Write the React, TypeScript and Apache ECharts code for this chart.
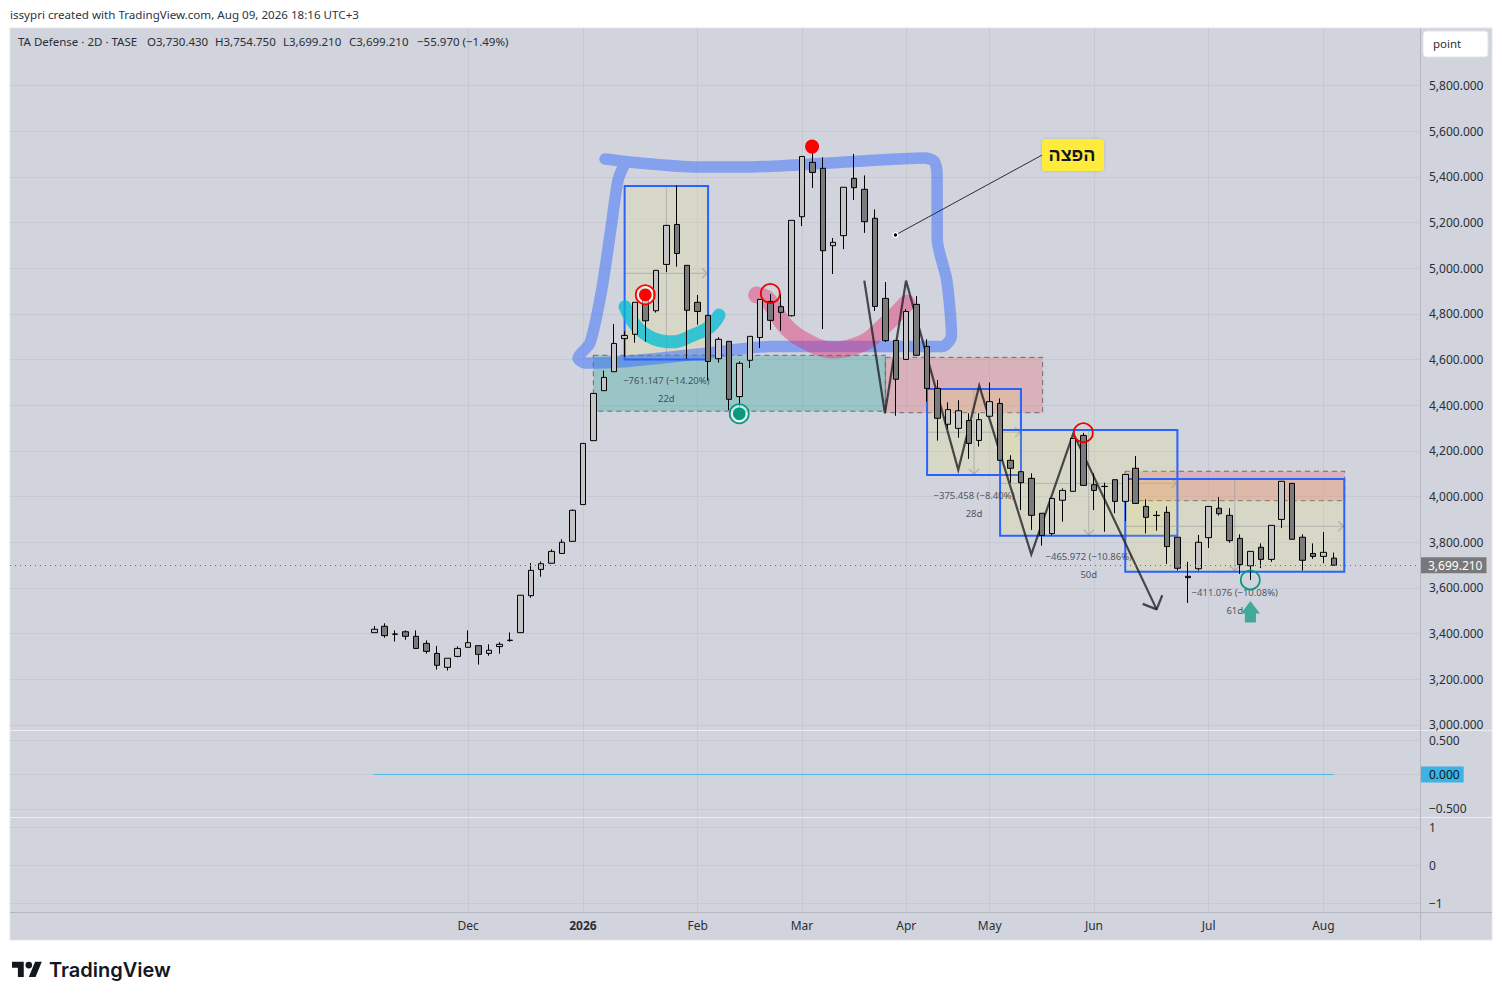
import React, { useEffect, useRef } from "react";
import * as echarts from "echarts";

// ---- candles (2D bars) ----
const opens = [3404,3432,3398,3408,3388,3357,3313,3252,3300,3340,3347,3313,3343,3370,3404,3566,3681,3708,3751,3804,3965,4245,4464,4547,4692,4711,4868,4814,5017,5192,5013,4851,4794,4604,4680,4438,4597,4697,4855,4832,4792,5226,5464,5438,5099,5143,5394,5346,5219,4868,4684,4601,4842,4658,4474,4317,4299,4333,4246,4352,4408,4159,4109,4080,3927,3838,3984,4023,4268,4052,4045,4074,3979,4124,3957,3918,3931,3822,3651,3684,3820,3949,3918,3817,3697,3778,3725,3900,4058,3822,3751,3738,3730.43];
const closes = [3419,3391,3397,3388,3335,3322,3261,3292,3335,3360,3309,3327,3353,3371,3568,3677,3706,3760,3800,3940,4233,4452,4522,4671,4706,4851,4770,4991,5188,5065,4816,4811,4592,4689,4426,4584,4702,4864,4772,4807,5210,5490,5420,5077,5114,5355,5353,5204,4833,4683,4514,4811,4619,4474,4343,4381,4376,4233,4337,4416,4159,4124,4061,3918,3830,3992,4027,4255,4049,4027,4044,3979,4097,3970,3909,3917,3781,3686,3645,3800,3957,3925,3807,3702,3760,3725,3874,4067,3813,3721,3738,3756,3699.21];
const lows = [3404,3382,3365,3373,3335,3312,3242,3238,3296,3340,3264,3303,3312,3364,3404,3557,3649,3708,3751,3804,3965,4245,4464,4547,4613,4674,4679,4806,4984,5007,4603,4753,4508,4587,4379,4394,4563,4651,4730,4727,4789,5185,5352,4734,4975,5084,5299,5155,4813,4677,4354,4601,4619,4416,4245,4296,4258,4165,4219,4352,4159,4061,3941,3854,3785,3830,3890,4023,4049,3941,3846,3927,3893,3970,3839,3851,3705,3676,3534,3676,3775,3917,3798,3661,3635,3687,3714,3862,3813,3676,3727,3708,3699.21];
const highs = [3433,3445,3414,3414,3414,3370,3346,3292,3344,3414,3347,3353,3362,3405,3568,3709,3716,3769,3813,3944,4233,4452,4552,4756,4724,4851,4900,4991,5188,5363,5013,4883,4794,4698,4680,4592,4702,4864,4887,4887,5210,5490,5533,5486,5133,5355,5501,5407,5258,4940,4684,4822,4879,4689,4511,4413,4422,4365,4365,4500,4430,4181,4109,4102,3927,3992,4036,4255,4279,4102,4061,4074,4097,4178,3988,3937,3957,3822,3714,3832,3957,3998,3949,3835,3760,3795,3874,4067,4058,3835,3795,3845,3754.75];
const lastClose = 3699.21;

const monthTicks = [9, 20, 31, 41, 51, 59, 69, 80, 91];
const monthLabels = ["Dec", "2026", "Feb", "Mar", "Apr", "May", "Jun", "Jul", "Aug"];
const priceTicks = [3000,3200,3400,3600,3800,4000,4200,4400,4600,4800,5000,5200,5400,5600,5800];
const pane2Ticks = [-0.5, 0, 0.5];
const pane3Ticks = [-1, 0, 1];
const zeroLine = [[0, 0], [92, 0]];

// ---- drawings, in [bar index, price] ----
const toolBoxes = [
  [24, 5360, 32, 4601],
  [53, 4471, 62, 4095],
  [60, 4292, 77, 3829],
  [72, 4077, 93, 3671],
];
const toolMids = [[28, 4978], [57.5, 4282], [68.5, 4058], [82.5, 3870]];
const zoneBoxes = [
  [21, 4619, 49, 4374],
  [49, 4610, 64.08, 4367.5],
  [71.98, 4111, 93.04, 3982],
];
const blueBrush = [[22.12,5479],[25.47,5461],[30.94,5444],[36.02,5444],[45.61,5467],[52.8,5483],[53.66,5470],[53.95,5422],[53.98,5124],[54.88,4949],[55.34,4703],[54.43,4657],[45.61,4657],[37.94,4657],[31.99,4629],[23.84,4591],[20.2,4585],[19.53,4607],[20.68,4673],[21.8,4905],[22.76,5198],[23.37,5387],[24.04,5461]];
const cyanBrush = [[24.04,4832],[25.16,4744],[26.75,4693],[28.67,4678],[30.58,4708],[32.19,4744],[33.05,4795]];
const pinkBrush = [[36.66,4883],[37.75,4861],[39.18,4760],[40.81,4695],[43.98,4642],[46.86,4673],[48.77,4743],[51.07,4848]];
const zigzag = [[46.98,4946],[48.96,4365],[50.98,4946],[55.99,4117],[58,4486],[62.99,3747],[67.02,4277],[75.01,3506]];
const arrowHead = [[73.67,3530],[75.01,3506],[75.55,3568]];
const calloutLine = [[49.97,5146],[64.02,5496]];
const calloutBox = [64.02, 5566, 69.96, 5426];
const calloutText = "הפצה";
const measureNotes: [number, number, string][] = [
  [28, 4508, "−761.147 (−14.20%)"], [28, 4430, "22d"],
  [57.5, 4004, "−375.458 (−8.40%)"], [57.5, 3927, "28d"],
  [68.5, 3737, "−465.972 (−10.86%)"], [68.5, 3660, "50d"],
  [82.5, 3579, "−411.076 (−10.08%)"], [82.5, 3502, "61d"],
];
const redRings = [[37.97, 4890], [67.98, 4280]];
const tealRings = [[83.99, 3635]];
const redDots = [[41.97, 5533]];
const redTargets = [[25.98, 4884]];
const tealTargets = [[34.99, 4363]];
const upArrows = [[84, 3543]];
const legendParts: [number, string][] = [
  [18, "TA Defense · 2D · TASE"], [147, "O3,730.430"], [215, "H3,754.750"],
  [283, "L3,699.210"], [349, "C3,699.210"], [417, "−55.970 (−1.49%)"],
];

const FONT = '"Noto Sans", sans-serif';
const TEXT = "#2a2e39";
const GRID = "#c6c9d2";
const PANEL = "#d1d4dc";

echarts.graphic.registerShape(
  "logo",
  echarts.graphic.extendPath(
    "M14 22H7V11H0V4h14v18zM28 22h-8l7.5-18h8L28 22zM16 8a4 4 0 1 0 8 0a4 4 0 1 0 -8 0z",
    {}
  )
);

const fmtPrice = (v: number) =>
  v.toLocaleString("en-US", { minimumFractionDigits: 3, maximumFractionDigits: 3 });
const minus = (s: string) => s.replace("-", "−");

function overlaySeries(list: any[], z: number, draw: (row: any, api: any) => any) {
  return {
    type: "custom",
    xAxisIndex: 0,
    yAxisIndex: 0,
    silent: true,
    z,
    clip: false,
    data: list.map((r) => [r[0], r[1]]),
    renderItem: (p: any, api: any) => draw(list[p.dataIndex], api),
  };
}

const rectOf = (b: number[], api: any) => {
  const a = api.coord([b[0], b[1]]);
  const c = api.coord([b[2], b[3]]);
  return { x: a[0], y: a[1], width: c[0] - a[0], height: c[1] - a[1] };
};

function chevron(x: number, y: number, dir: "right" | "down") {
  const pts =
    dir === "right"
      ? [[x - 5, y - 5], [x, y], [x - 5, y + 5]]
      : [[x - 5, y - 5], [x, y], [x + 5, y - 5]];
  return { type: "polyline", shape: { points: pts }, style: { stroke: "rgba(150,152,160,.6)", lineWidth: 1.4, fill: "none" } };
}

function brush(data: number[][], color: string, width: number, smooth: number) {
  return {
    type: "line",
    xAxisIndex: 0,
    yAxisIndex: 0,
    data,
    silent: true,
    z: 1,
    smooth,
    showSymbol: false,
    symbol: "none",
    lineStyle: { color, width, cap: "round", join: "round" },
  };
}

function ring(pos: number[], api: any, color: string, dot: boolean) {
  const c = api.coord(pos);
  const children: any[] = [
    { type: "circle", shape: { cx: c[0], cy: c[1], r: 9.5 }, style: { fill: dot ? "rgba(255,255,255,.55)" : "none", stroke: color, lineWidth: 1.8 } },
  ];
  if (dot) children.push({ type: "circle", shape: { cx: c[0], cy: c[1], r: 6.3 }, style: { fill: color } });
  return { type: "group", children };
}

export default function App() {
  const ref = useRef<HTMLDivElement>(null);
  useEffect(() => {
    const chart = echarts.init(ref.current!, null, { renderer: "svg" });
    const xBase = {
      type: "value",
      min: -34.93,
      max: 100.26,
      axisLine: { show: false },
      axisTick: { show: false, customValues: monthTicks },
      splitLine: { show: true, lineStyle: { color: GRID, width: 1 } },
    };
    const candleData = opens.map((o, i) => [i, o, closes[i], lows[i], highs[i]]);
    chart.setOption({
      animation: false,
      backgroundColor: "#ffffff",
      textStyle: { fontFamily: FONT },
      grid: [
        { left: 10, width: 1410, top: 28, height: 702.3 },
        { left: 10, width: 1410, top: 731, height: 86 },
        { left: 10, width: 1410, top: 818, height: 94 },
      ],
      xAxis: [
        { ...xBase, gridIndex: 0, axisLabel: { show: false, customValues: monthTicks } },
        { ...xBase, gridIndex: 1, axisLabel: { show: false, customValues: monthTicks } },
        {
          ...xBase,
          gridIndex: 2,
          axisLabel: {
            show: true,
            customValues: monthTicks,
            margin: 7,
            color: TEXT,
            fontFamily: FONT,
            fontSize: 12,
            formatter: (v: number) => {
              const s = monthLabels[monthTicks.indexOf(v)] ?? "";
              return s === "2026" ? "{b|2026}" : s;
            },
            rich: { b: { fontWeight: "bold", fontSize: 12, fontFamily: FONT, color: TEXT } },
          },
        },
      ],
      yAxis: [
        {
          gridIndex: 0, type: "value", position: "right", min: 2976.3, max: 6052.6,
          axisLine: { show: false }, axisTick: { show: false, customValues: priceTicks },
          splitLine: { show: true, lineStyle: { color: GRID } },
          axisLabel: { customValues: priceTicks, color: TEXT, fontFamily: FONT, fontSize: 12, margin: 9, padding: [0, 0, 2, 0], formatter: fmtPrice },
        },
        {
          gridIndex: 1, type: "value", position: "right", min: -0.62, max: 0.634,
          axisLine: { show: false }, axisTick: { show: false, customValues: pane2Ticks },
          splitLine: { show: true, lineStyle: { color: GRID } },
          axisLabel: { customValues: pane2Ticks, color: TEXT, fontFamily: FONT, fontSize: 12, margin: 9, formatter: (v: number) => minus(v.toFixed(3)) },
        },
        {
          gridIndex: 2, type: "value", position: "right", min: -1.228, max: 1.245,
          axisLine: { show: false }, axisTick: { show: false, customValues: pane3Ticks },
          splitLine: { show: true, lineStyle: { color: GRID } },
          axisLabel: { customValues: pane3Ticks, color: TEXT, fontFamily: FONT, fontSize: 12, margin: 9, formatter: (v: number) => minus(String(v)) },
        },
      ],
      series: [
        overlaySeries(zoneBoxes, 1, (b, api) => {
          const kind = zoneBoxes.indexOf(b) === 0 ? "rgba(0,150,136,.26)" : "rgba(242,54,69,.22)";
          return {
            type: "rect",
            shape: rectOf(b, api),
            style: { fill: kind, stroke: "rgba(70,70,75,.7)", lineWidth: 1, lineDash: [5, 4] },
          };
        }),
        overlaySeries(toolBoxes, 1, (b, api) => {
          const i = toolBoxes.indexOf(b);
          const r = rectOf(b, api);
          const m = api.coord(toolMids[i]);
          const line = (x1: number, y1: number, x2: number, y2: number) => ({
            type: "line",
            shape: { x1, y1, x2, y2 },
            style: { stroke: "rgba(150,152,160,.6)", lineWidth: 1 },
          });
          const children: any[] = [
            { type: "rect", shape: r, style: { fill: "rgba(255,235,80,.14)" } },
            line(r.x, m[1], r.x + r.width, m[1]),
            line(m[0], r.y, m[0], r.y + r.height),
            chevron(r.x + r.width - 1, m[1], "right"),
          ];
          if (i > 0) children.push(chevron(m[0], r.y + r.height - 1, "down"));
          children.push({ type: "rect", shape: r, style: { fill: "none", stroke: "#2962ff", lineWidth: 2 } });
          return { type: "group", children };
        }),
        brush(blueBrush, "rgba(41,98,255,.45)", 11.5, 0.25),
        brush(cyanBrush, "rgba(0,188,212,.75)", 13, 0.4),
        brush(pinkBrush, "rgba(233,30,99,.4)", 17, 0.4),
        {
          type: "line", xAxisIndex: 0, yAxisIndex: 0, data: zigzag, silent: true, z: 1, showSymbol: false, symbol: "none",
          lineStyle: { color: "rgba(30,30,34,.78)", width: 2.2, join: "miter" },
        },
        {
          type: "line", xAxisIndex: 0, yAxisIndex: 0, data: arrowHead, silent: true, z: 1, showSymbol: false, symbol: "none",
          lineStyle: { color: "rgba(30,30,34,.78)", width: 2.2 },
        },
        {
          type: "candlestick",
          xAxisIndex: 0,
          yAxisIndex: 0,
          data: candleData,
          encode: { x: 0, y: [1, 2, 3, 4] },
          barWidth: 6,
          silent: true,
          z: 3,
          itemStyle: {
            color: "#c4c4c4",
            color0: "#7b7b7b",
            borderColor: "#000000",
            borderColor0: "#000000",
            borderColorDoji: "#000000",
            borderWidth: 1,
          },
          markLine: {
            silent: true,
            symbol: "none",
            animation: false,
            data: [{ yAxis: lastClose }],
            lineStyle: { color: "#6a6d78", type: [1, 4], width: 1 },
            label: {
              position: "end",
              distance: 1,
              formatter: () => fmtPrice(lastClose),
              color: "#ffffff",
              backgroundColor: "#787878",
              fontFamily: FONT,
              fontSize: 12,
              padding: [2, 4, 2, 7],
            },
          },
        },
        overlaySeries(calloutLine.slice(0, 1), 4, (_b, api) => {
          const a = api.coord(calloutLine[0]);
          const c = api.coord(calloutLine[1]);
          const r = rectOf(calloutBox, api);
          return {
            type: "group",
            children: [
              { type: "line", shape: { x1: a[0], y1: a[1], x2: c[0], y2: c[1] }, style: { stroke: "#2a2e39", lineWidth: 1 } },
              { type: "circle", shape: { cx: a[0], cy: a[1], r: 2.4 }, style: { fill: "#000", stroke: "#fff", lineWidth: 1.4 } },
              { type: "rect", shape: { ...r, r: 4 }, style: { fill: "#ffeb3b", shadowBlur: 3, shadowColor: "rgba(0,0,0,.15)" } },
              { type: "text", style: { x: r.x + r.width / 2 - 1, y: r.y + r.height / 2, text: calloutText, font: 'bold 18px "Liberation Sans"', fill: "#131722", align: "center", verticalAlign: "middle" } },
            ],
          };
        }),
        overlaySeries(measureNotes, 5, (n, api) => {
          const c = api.coord([n[0], n[1]]);
          return { type: "text", style: { x: c[0], y: c[1], text: n[2], font: `9.5px ${FONT}`, fill: "rgba(42,46,57,.8)", align: "center", verticalAlign: "middle" } };
        }),
        overlaySeries(redRings, 6, (p, api) => ring(p, api, "#f00000", false)),
        overlaySeries(tealRings, 6, (p, api) => ring(p, api, "#089981", false)),
        overlaySeries(redTargets, 6, (p, api) => ring(p, api, "#ff0000", true)),
        overlaySeries(tealTargets, 6, (p, api) => ring(p, api, "#089981", true)),
        overlaySeries(redDots, 6, (p, api) => {
          const c = api.coord(p);
          return { type: "circle", shape: { cx: c[0], cy: c[1], r: 7 }, style: { fill: "#ff0000" } };
        }),
        overlaySeries(upArrows, 6, (p, api) => {
          const c = api.coord(p);
          const pts = [[0,0],[9.5,12.5],[5.5,12.5],[5.5,21.5],[-5.5,21.5],[-5.5,12.5],[-9.5,12.5]].map((d) => [c[0] + d[0], c[1] + d[1]]);
          return { type: "polygon", shape: { points: pts }, style: { fill: "#42a898" } };
        }),
        {
          type: "line",
          xAxisIndex: 1,
          yAxisIndex: 1,
          data: zeroLine,
          silent: true,
          showSymbol: false,
          symbol: "none",
          lineStyle: { color: "#4db6e6", width: 1 },
          markLine: {
            silent: true,
            symbol: "none",
            animation: false,
            data: [{ yAxis: 0 }],
            lineStyle: { color: "transparent" },
            label: {
              position: "end",
              distance: 1,
              formatter: "0.000",
              color: "#131722",
              backgroundColor: "#3bb3e4",
              fontFamily: FONT,
              fontSize: 12,
              padding: [2, 4, 2, 8],
            },
          },
        },
      ],
      graphic: [
        { type: "rect", z: -10, shape: { x: 10, y: 28, width: 1482, height: 912 }, style: { fill: PANEL, stroke: "#e2e4ea", lineWidth: 1 } },
        { type: "line", z: 0, shape: { x1: 10, y1: 730.5, x2: 1492, y2: 730.5 }, style: { stroke: "#eceef2", lineWidth: 1 } },
        { type: "line", z: 0, shape: { x1: 10, y1: 817.5, x2: 1492, y2: 817.5 }, style: { stroke: "#eceef2", lineWidth: 1 } },
        { type: "line", z: 0, shape: { x1: 10, y1: 912.5, x2: 1492, y2: 912.5 }, style: { stroke: "#b4b7c0", lineWidth: 1 } },
        { type: "line", z: 0, shape: { x1: 1420.5, y1: 28, x2: 1420.5, y2: 940 }, style: { stroke: "#b4b7c0", lineWidth: 1 } },
        { type: "rect", z: 5, shape: { x: 1423, y: 31, width: 65, height: 26, r: 3 }, style: { fill: "#ffffff", stroke: "#e0e3eb", lineWidth: 1 } },
        { type: "text", z: 6, style: { x: 1433, y: 43.5, text: "point", font: `11.5px ${FONT}`, fill: TEXT, verticalAlign: "middle" } },
        { type: "text", z: 6, style: { x: 10, y: 14.5, text: "issypri created with TradingView.com, Aug 09, 2026 18:16 UTC+3", font: `11.6px ${FONT}`, fill: "#2f333d", verticalAlign: "middle" } },
        ...legendParts.map(([x, text]) => ({ type: "text", z: 6, style: { x, y: 41.5, text, font: `11.5px ${FONT}`, fill: TEXT, verticalAlign: "middle" } })),
        { type: "logo", z: 6, x: 12, y: 958.4, scaleX: 0.84, scaleY: 0.84, style: { fill: "#131722" } },
        { type: "text", z: 6, style: { x: 49, y: 970, text: "TradingView", font: '600 20px Inter', fill: "#131722", verticalAlign: "middle" } },
      ],
    });
    return () => chart.dispose();
  }, []);
  return <div ref={ref} style={{ position: "absolute", left: 0, top: 0, width: 1502, height: 1000, background: "#fff" }} />;
}
